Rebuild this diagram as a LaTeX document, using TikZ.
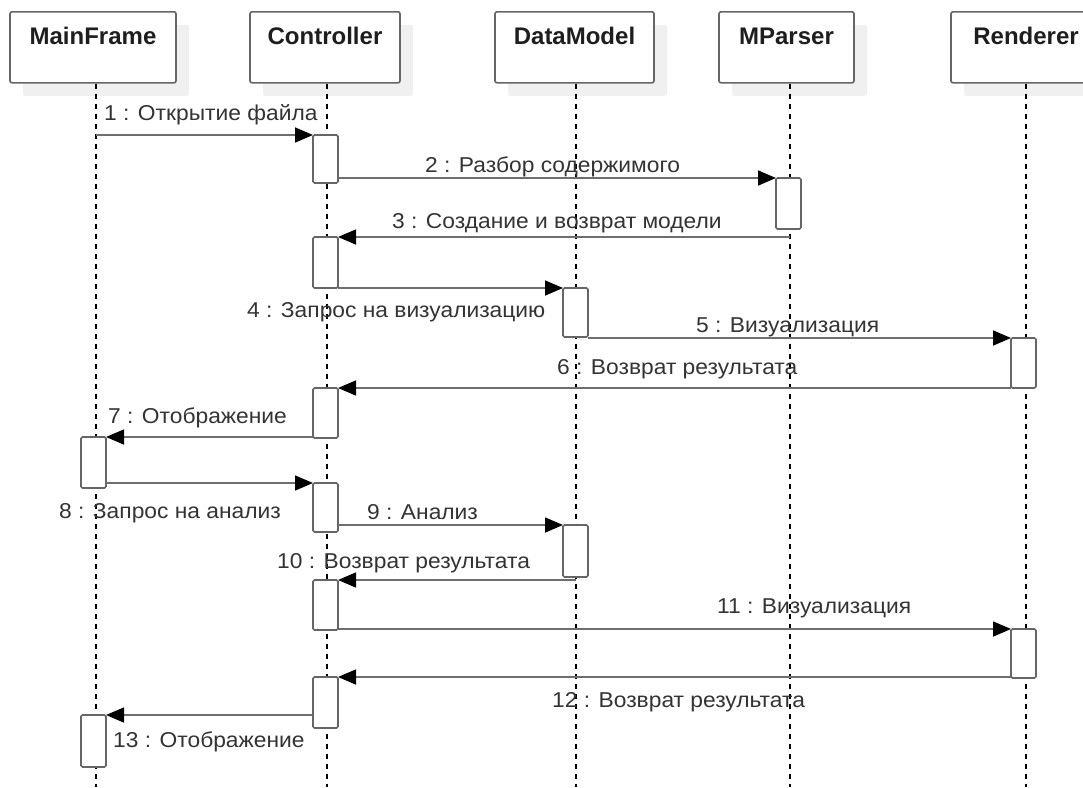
\documentclass[tikz,border=0pt]{standalone}
\usepackage{fontspec}
\setmainfont{Liberation Sans}
\newfontfamily\msgfont[FakeStretch=1.06]{Liberation Sans}
\usetikzlibrary{arrows.meta,shadows}

\definecolor{boxline}{HTML}{666666}
\definecolor{msgline}{HTML}{6E6E6E}
\definecolor{shade}{HTML}{F0F0F0}
\definecolor{labeltext}{HTML}{333333}
\definecolor{headtext}{HTML}{1E1E1E}

\tikzset{
  head/.style={draw=boxline, line width=1.6pt, rounded corners=2pt, fill=white,
    anchor=north, minimum height=71pt, inner xsep=0pt, inner ysep=0pt,
    text height=33pt, text depth=38pt, text=headtext,
    font=\bfseries\fontsize{24}{26}\selectfont,
    general shadow={fill=shade, draw=none, shadow xshift=13pt, shadow yshift=-13pt}},
  act/.style={draw=boxline, line width=1.7pt, fill=white, rounded corners=1.5pt,
    minimum width=25pt, inner sep=0pt, outer sep=0pt, anchor=north},
  lifeline/.style={draw=black, line width=1.2pt, dash pattern=on 5pt off 5pt},
  msg/.style={draw=msgline, line width=1.6pt,
    -{Triangle[length=18pt,width=15pt,color=black]}},
  lbl/.style={anchor=base west, inner sep=0pt, text=labeltext,
    font=\msgfont\fontsize{21.5}{24}\selectfont},
}

\begin{document}
\begin{tikzpicture}[x=1pt,y=-1pt]
\useasboundingbox (0,0) rectangle (1083,787);
\clip (0,0) rectangle (1083,787);

% participants
\node[head, minimum width=166pt] (mf) at (93,11) {MainFrame};
\node[head, minimum width=150pt] (ct) at (325,11) {Controller};
\node[head, minimum width=159pt] (dm) at (574.5,11) {DataModel};
\node[head, minimum width=135pt] (mp) at (786.5,11) {MParser};
\node[head, minimum width=150pt] (rn) at (1026,11) {Renderer};

% lifeline axes
\coordinate (bot) at (0,787);
\coordinate (mfL) at (96,0);
\coordinate (ctL) at (327,0);
\coordinate (dmL) at (576,0);
\coordinate (mpL) at (790,0);
\coordinate (rnL) at (1026,0);

\draw[lifeline] (mfL |- mf.south) -- (mfL |- bot);
\draw[lifeline] (ctL |- ct.south) -- (ctL |- bot);
\draw[lifeline] (dmL |- dm.south) -- (dmL |- bot);
\draw[lifeline] (mpL |- mp.south) -- (mpL |- bot);
\draw[lifeline] (rnL |- rn.south) -- (rnL |- bot);

% activation bars
\node[act, minimum height=48pt] (c1) at (325.5,135) {};
\node[act, minimum height=51pt] (p1) at (788.5,178) {};
\node[act, minimum height=51pt] (c2) at (325.5,237) {};
\node[act, minimum height=49pt] (d1) at (575.5,288) {};
\node[act, minimum height=50pt] (r1) at (1023.5,338) {};
\node[act, minimum height=50pt] (c3) at (325.5,388) {};
\node[act, minimum height=51pt] (m1) at (93.5,437) {};
\node[act, minimum height=49pt] (c4) at (325.5,483) {};
\node[act, minimum height=52pt] (d2) at (575.5,525) {};
\node[act, minimum height=50pt] (c5) at (325.5,580) {};
\node[act, minimum height=49pt] (r2) at (1023.5,629) {};
\node[act, minimum height=51pt] (c6) at (325.5,677) {};
\node[act, minimum height=52pt] (m2) at (93.5,715) {};

% messages
\draw[msg] (mfL |- c1.north) -- (c1.north west);
\draw[msg] (c1.east |- p1.north) -- (p1.north west);
\draw[msg] (mpL |- c2.north) -- (c2.north east);
\draw[msg] (c2.east |- d1.north) -- (d1.north west);
\draw[msg] (d1.east |- r1.north) -- (r1.north west);
\draw[msg] (r1.west |- c3.north) -- (c3.north east);
\draw[msg] (c3.west |- m1.north) -- (m1.north east);
\draw[msg] (m1.east |- c4.north) -- (c4.north west);
\draw[msg] (c4.east |- d2.north) -- (d2.north west);
\draw[msg] (dmL |- c5.north) -- (c5.north east);
\draw[msg] (c5.east |- r2.north) -- (r2.north west);
\draw[msg] (r2.west |- c6.north) -- (c6.north east);
\draw[msg] (c6.west |- m2.north) -- (m2.north east);

% message labels
\node[lbl] (t1) at (104,120) {1 : Открытие файла};
\node[lbl] (t2) at (425,172) {2 : Разбор содержимого};
\node[lbl] (t3) at (392,228) {3 : Создание и возврат модели};
\node[lbl] (t4) at (247,317) {4 : Запрос на визуализацию};
\node[lbl] (t5) at (696,332) {5 : Визуализация};
\node[lbl] (t6) at (557,374) {6 : Возврат результата};
\node[lbl] (t7) at (108,423) {7 : Отображение};
\node[lbl] (t8) at (59,518) {8 : Запрос на анализ};
\node[lbl] (t9) at (367,519) {9 : Анализ};
\node[lbl] (t10) at (277,568) {10 : Возврат результата};
\node[lbl] (t11) at (717,613) {11 : Визуализация};
\node[lbl] (t12) at (552,707) {12 : Возврат результата};
\node[lbl] (t13) at (113,747) {13 : Отображение};
\end{tikzpicture}
\end{document}
